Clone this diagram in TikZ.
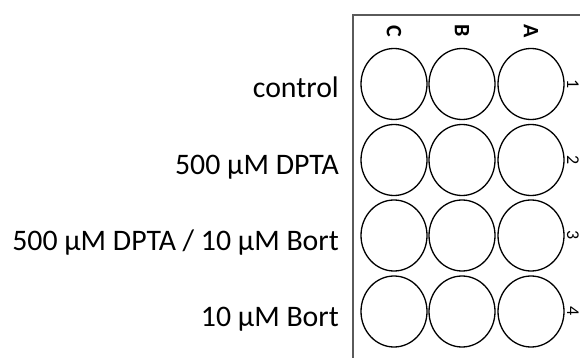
\documentclass[tikz,border=0pt]{standalone}
\usepackage{fontspec}
\usetikzlibrary{shapes.geometric}
\setmainfont{Carlito}
\definecolor{boxgray}{HTML}{5A5A5A}
\begin{document}
\begin{tikzpicture}[x=1pt,y=-1pt,
  well/.style={draw=black,line width=1.3pt,ellipse,minimum width=66pt,minimum height=71pt,inner sep=0pt},
  cond/.style={anchor=base east,inner sep=0pt,font=\fontsize{29.8}{34}\selectfont},
  collab/.style={rotate=-90,inner sep=0pt,font=\fontsize{22}{26}\selectfont\bfseries},
  rowlab/.style={rotate=-90,inner sep=0pt,font=\fontsize{18}{22}\selectfont}]
\useasboundingbox (0,0) rectangle (580,358);
\clip (0,0) rectangle (580,358);
\draw[boxgray,line width=1.5pt] (620,15) -- (353,15) -- (353,400);
\foreach \r/\y in {1/84,2/160,3/235.5,4/311.5}{
  \foreach \c/\x in {C/394,B/462,A/531}{
    \node[well] (w\c\r) at (\x,\y) {};
  }
  \node[rowlab] (n\r) at (573,\y) {\r};
}
\foreach \c/\x in {C/394,B/462,A/531}{
  \node[collab] (l\c) at (\x,31) {\c};
}
\node[cond] (c1) at (339,98) {control};
\node[cond] (c2) at (339,175) {500 µM DPTA};
\node[cond] (c3) at (339,250) {500 µM DPTA / 10 µM Bort};
\node[cond] (c4) at (339,326) {10 µM Bort};
\end{tikzpicture}
\end{document}
